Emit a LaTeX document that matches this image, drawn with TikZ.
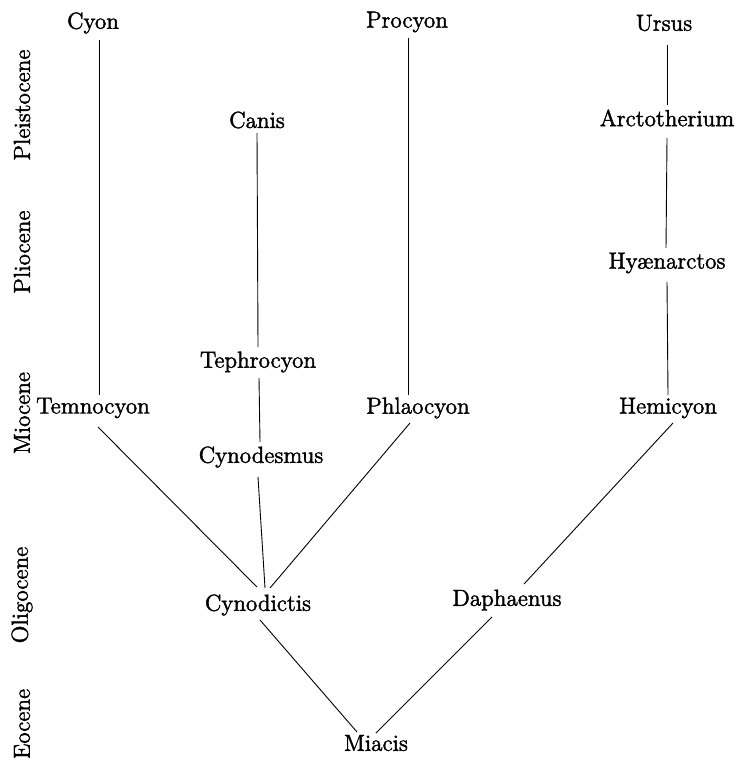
\documentclass[tikz,border=0pt]{standalone}
\usepackage{fontspec}
\newfontfamily\taxonfont{Latin Modern Roman}[FakeBold=1.8]
\usetikzlibrary{calc}
\tikzset{
  taxon/.style={inner sep=0pt, font=\taxonfont\fontsize{11.6}{13}\selectfont},
  epoch/.style={inner sep=0pt, rotate=90, font=\taxonfont\fontsize{11.6}{13}\selectfont},
  link/.style={line width=0.45pt, black}
}
\begin{document}
\begin{tikzpicture}[x=0.5pt,y=-0.5pt]
\useasboundingbox (0,0) rectangle (737,758);
% epochs
\node[epoch] (pleis) at (22,105) {Pleistocene};
\node[epoch] (plio) at (22,252) {Pliocene};
\node[epoch] (mio) at (22,413) {Miocene};
\node[epoch] (oligo) at (22,595) {Oligocene};
\node[epoch] (eoc) at (22,724) {Eocene};
% taxa
\node[taxon] (cyon) at (93,23) {Cyon};
\node[taxon] (procyon) at (407,22) {Procyon};
\node[taxon] (ursus) at (664,23) {Ursus};
\node[taxon] (canis) at (257,120) {Canis};
\node[taxon] (arcto) at (667,118) {Arctotherium};
\node[taxon] (hyaen) at (667,263) {Hyænarctos};
\node[taxon] (tephro) at (258,362) {Tephrocyon};
\node[taxon] (temno) at (93,408) {Temnocyon};
\node[taxon] (phlao) at (418,408) {Phlaocyon};
\node[taxon] (hemi) at (668,408) {Hemicyon};
\node[taxon] (cynodes) at (261,457) {Cynodesmus};
\node[taxon] (cynodic) at (258,605) {Cynodictis};
\node[taxon] (daph) at (507,600) {Daphaenus};
\node[taxon] (miacis) at (376,743) {Miacis};
% connectors
\draw[link] ($(cyon)+(6,17)$) -- ($(temno)+(6,-13)$);
\draw[link] ($(canis)+(0,13)$) -- ($(tephro)+(0,-15)$);
\draw[link] ($(procyon)+(1,16)$) -- ($(phlao)+(-10,-13)$);
\draw[link] ($(ursus)+(3,22)$) -- ($(arcto)+(0,-13)$);
\draw[link] ($(arcto)+(0,20)$) -- ($(hyaen)+(-1,-15)$);
\draw[link] ($(hyaen)+(0,19)$) -- ($(hemi)+(0,-13)$);
\draw[link] ($(tephro)+(1,16)$) -- ($(cynodes)+(-1,-15)$);
\draw[link] ($(temno)+(5,19)$) -- ($(cynodic)+(-1,-18)$);
\draw[link] ($(cynodes)+(-3,20)$) -- ($(cynodic)+(7,-17)$);
\draw[link] ($(phlao)+(-8,15)$) -- ($(cynodic)+(12,-17)$);
\draw[link] ($(hemi)+(5,15)$) -- ($(daph)+(17,-16)$);
\draw[link] ($(cynodic)+(2,15)$) -- ($(miacis)+(-19,-11)$);
\draw[link] ($(daph)+(-15,17)$) -- ($(miacis)+(0,-10)$);
\end{tikzpicture}
\end{document}
